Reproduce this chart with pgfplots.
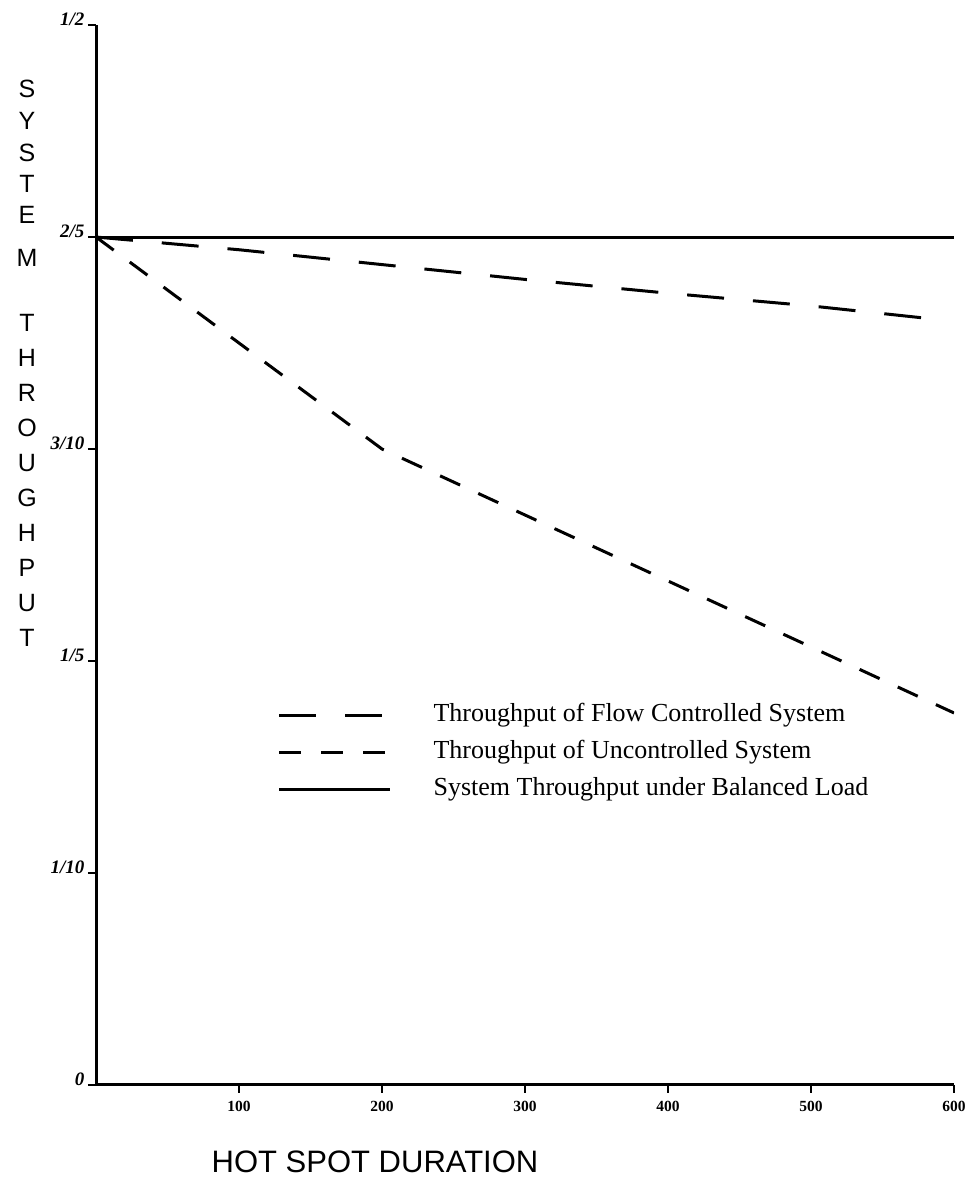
\documentclass[border=0pt]{standalone}
\usepackage{fontspec}
\setmainfont{Liberation Serif}
\newfontfamily\sansf{Liberation Sans}
\usepackage{pgfplots}
\pgfplotsset{compat=1.18}
\begin{document}
\begin{tikzpicture}[x=1pt,y=1pt]
\useasboundingbox (0,0) rectangle (976,1182);
\begin{axis}[
  at={(96pt,97pt)}, anchor=south west,
  width=858pt, height=1060pt, scale only axis,
  xmin=0, xmax=600, ymin=0, ymax=0.5,
  axis x line*=bottom, axis y line*=left,
  axis line style={line width=3pt, black},
  xtick={100,200,300,400,500,600},
  ytick={0,0.1,0.2,0.3,0.4,0.5},
  yticklabels={0,1/10,1/5,3/10,2/5,1/2},
  tick align=outside, major tick length=8pt,
  tick style={line width=2.2pt, black},
  /pgf/number format/assume math mode=true,
  xticklabel style={font=\bfseries\fontsize{15.5}{15.5}\selectfont, yshift=-5pt},
  yticklabel style={font=\bfseries\itshape\fontsize{19}{19}\selectfont, yshift=6pt},
  legend style={at={(axis cs:127,0.157)}, anchor=west, draw=none, fill=none,
    font=\fontsize{26}{26}\selectfont, inner sep=0pt, outer sep=0pt,
    row sep=13pt, column sep=42pt,
    nodes={inner sep=0pt, text height=18pt, text depth=6pt}},
  legend cell align=left,
  legend image code/.code={\draw[#1] (0pt,0pt) -- (111pt,0pt);},
]
\addplot[line width=3pt, dash pattern=on 37pt off 29pt] coordinates {
  (0,0.4) (100,0.394) (200,0.387) (300,0.380) (400,0.3735) (500,0.3675) (586,0.3613)};
\addlegendentry{Throughput of Flow Controlled System}
\addplot[line width=3pt, dash pattern=on 22pt off 20pt] coordinates {
  (0,0.4) (200,0.3) (600,0.1755)};
\addlegendentry{Throughput of Uncontrolled System}
\addplot[line width=3pt] coordinates {(0,0.4) (600,0.4)};
\addlegendentry{System Throughput under Balanced Load}
\end{axis}
\foreach \l/\y in {S/89,Y/121,S/153,T/184,E/215,M/258,T/323,H/358,R/393,O/428,U/463,G/498,H/533,P/568,U/603,T/638}
  \node[font=\sansf\fontsize{25}{25}\selectfont, inner sep=0pt] at (27,{1182-\y}) {\l};
\node[font=\sansf\fontsize{31}{31}\selectfont, inner sep=0pt] at (375,20) {HOT SPOT DURATION};
\end{tikzpicture}
\end{document}
